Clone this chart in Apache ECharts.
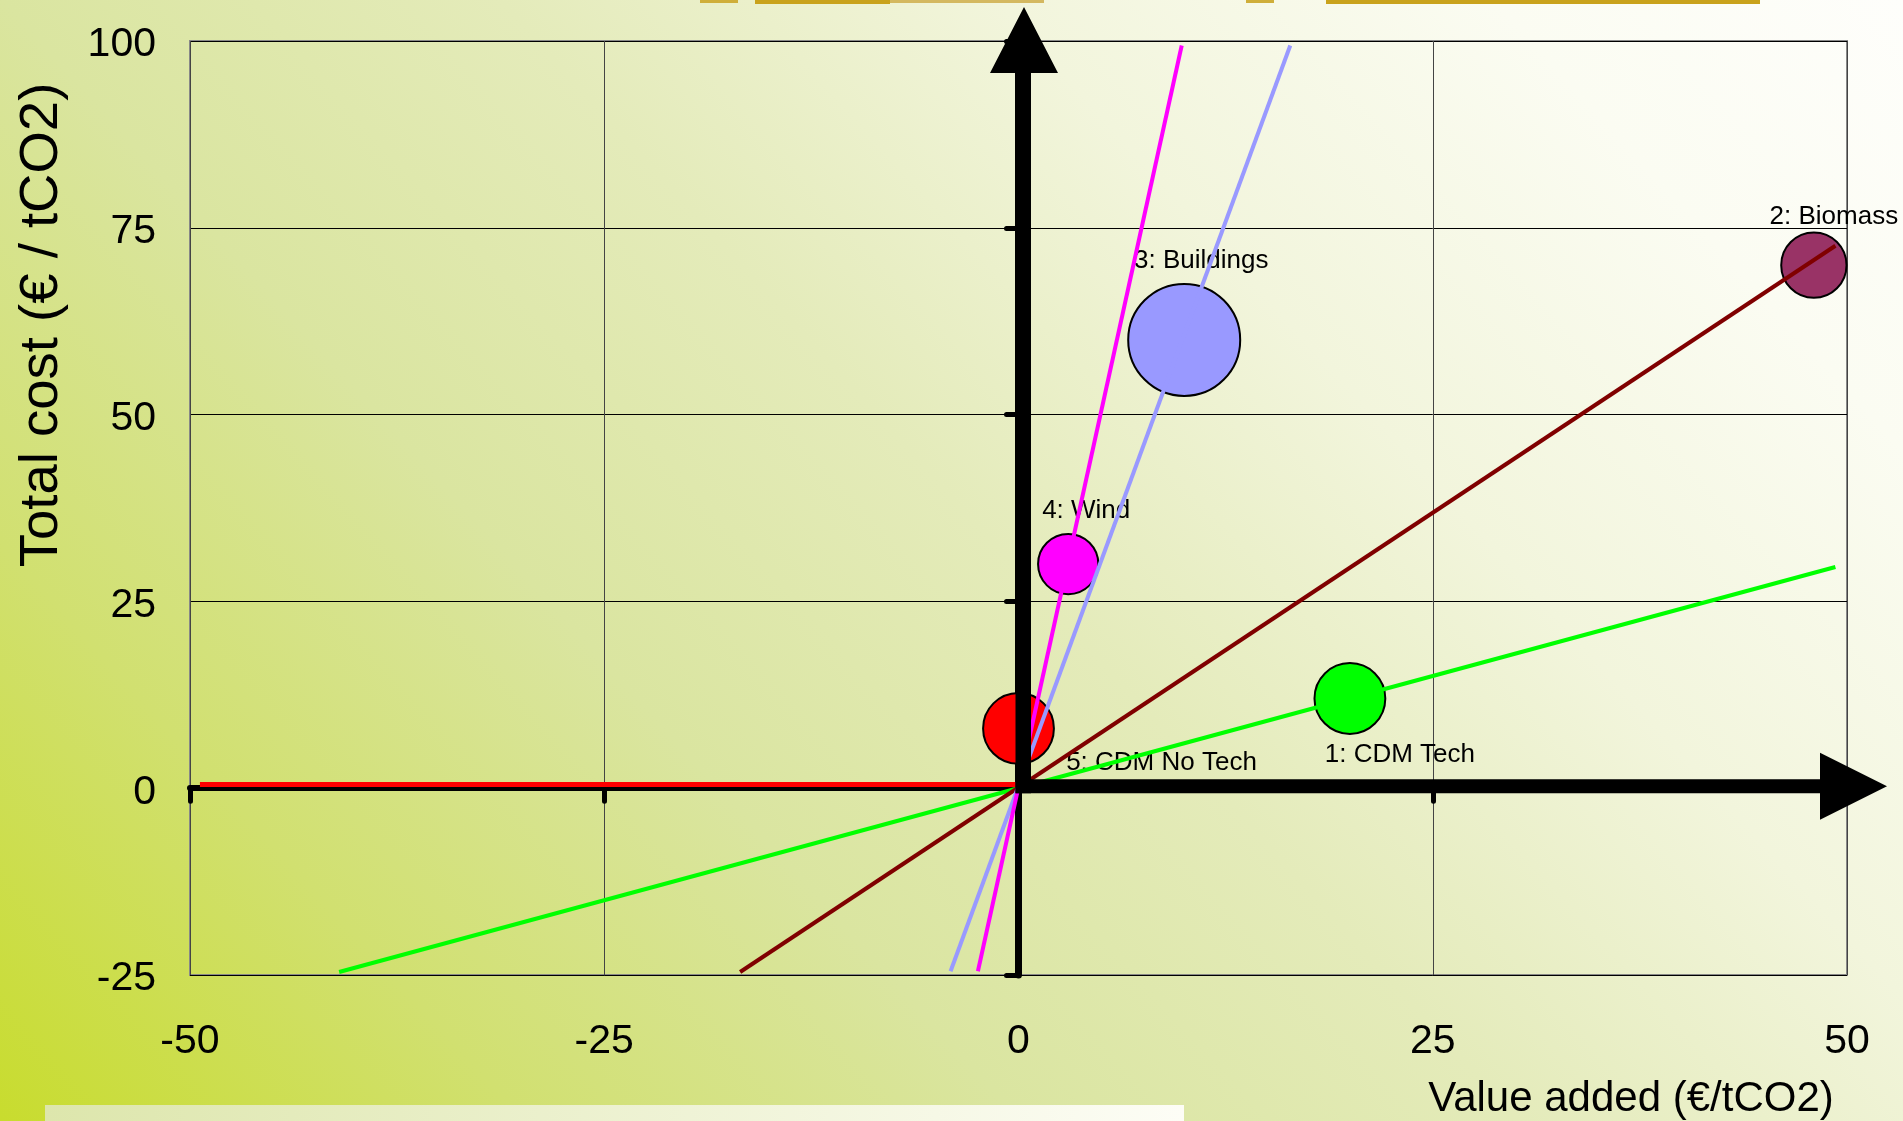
<!DOCTYPE html>
<html>
<head>
<meta charset="utf-8">
<script src="https://cdn.jsdelivr.net/npm/echarts@6/dist/echarts.min.js"></script>
<style>
  html, body { margin: 0; padding: 0; width: 100%; height: 100%; overflow: hidden; }
  #chart { width: 1903px; height: 1121px; }
</style>
</head>
<body>
<div id="chart"></div>
<script>
// Projects plotted as bubbles: value added vs total cost per tonne of CO2
const projects   = ['1: CDM Tech', '2: Biomass', '3: Buildings', '4: Wind', '5: CDM No Tech'];
const valueAdded = [20, 48, 10, 3, 0];
const totalCost  = [12, 70, 60, 30, 8];
const bubbleSize = [40, 34, 100, 29, 40];

// Trend line through the origin for each project (start and end points)
const lineStartX = [-41, -16.8, -4.1, -2.45, -49.4];
const lineStartY = [-24.6, -24.6, -24.5, -24.5, 0.5];
const lineEndX   = [49.3, 49.3, 16.4, 9.85, 0];
const lineEndY   = [29.6, 72.6, 99.4, 99.4, 0.5];

// Axis ticks
const xTicks = [-50, -25, 0, 25, 50];
const yTicks = [-25, 0, 25, 50, 75, 100];

const FONT = '"Liberation Sans", Arial, sans-serif';
const lineColors   = ['#00ff00', '#800000', '#9999ff', '#ff00ff', '#ff0000'];
const lineWidths   = [4, 4, 4, 4, 5];
const bubbleColors = ['#00ff00', '#993366', '#9999ff', '#ff00ff', '#ff0000'];
const labelOffsets = [[50, 56], [20, -48], [17, -79], [18, -53], [143, 34]];

const xMin = xTicks[0], xMax = xTicks[xTicks.length - 1];
const yMin = yTicks[0], yMax = yTicks[yTicks.length - 1];
const xStep = xTicks[1] - xTicks[0];
const yStep = yTicks[1] - yTicks[0];

const chart = echarts.init(document.getElementById('chart'), null, { renderer: 'canvas' });

const trendSeries = projects.map((p, i) => ({
  type: 'line',
  name: p,
  xAxisIndex: 0,
  yAxisIndex: 0,
  data: [[lineStartX[i], lineStartY[i]], [lineEndX[i], lineEndY[i]]],
  symbol: 'none',
  silent: true,
  z: 5,
  lineStyle: { color: lineColors[i], width: lineWidths[i] }
}));

const bubbleSeries = {
  type: 'scatter',
  xAxisIndex: 0,
  yAxisIndex: 0,
  z: 3,
  silent: true,
  data: projects.map((p, i) => ({
    name: p,
    value: [valueAdded[i], totalCost[i], bubbleSize[i]],
    itemStyle: { color: bubbleColors[i] },
    label: { offset: labelOffsets[i] }
  })),
  symbol: 'circle',
  symbolSize: v => 11.2 * Math.sqrt(v[2]),
  itemStyle: { borderColor: '#000', borderWidth: 2, opacity: 1 },
  label: {
    show: true,
    position: 'inside',
    formatter: '{b}',
    fontFamily: FONT,
    fontSize: 26,
    color: '#000',
    textBorderWidth: 0,
    align: 'center',
    verticalAlign: 'middle'
  }
};

// Thick arrows along the positive half of each axis
const arrowSeries = {
  type: 'custom',
  xAxisIndex: 0,
  yAxisIndex: 0,
  z: 10,
  silent: true,
  clip: false,
  data: [[0, 0]],
  renderItem: function (params, api) {
    const o = api.coord([api.value(0), api.value(1)]);
    const xe = api.coord([xMax, 0]);
    const ye = api.coord([0, yMax]);
    const cx = o[0] + 5.5;
    const cy = o[1] - 2;
    const vertical = [
      [o[0] - 3, o[1] + 5], [o[0] + 12.5, o[1] + 5], [o[0] + 12.5, ye[1] + 32],
      [cx + 34, ye[1] + 32], [cx, ye[1] - 34], [cx - 34, ye[1] + 32],
      [o[0] - 3, ye[1] + 32]
    ];
    const horizontal = [
      [o[0] - 3, o[1] + 5], [xe[0] - 27, o[1] + 5], [xe[0] - 27, cy + 33.5],
      [xe[0] + 40, cy], [xe[0] - 27, cy - 33.5], [xe[0] - 27, o[1] - 9],
      [o[0] - 3, o[1] - 9]
    ];
    return {
      type: 'group',
      children: [
        { type: 'polygon', shape: { points: vertical }, style: { fill: '#000' } },
        { type: 'polygon', shape: { points: horizontal }, style: { fill: '#000' } }
      ]
    };
  }
};

const option = {
  animation: false,
  backgroundColor: new echarts.graphic.LinearGradient(0, 1, 0.841, -0.297, [
    { offset: 0, color: '#c8dc2e' },
    { offset: 0.18, color: '#d1e070' },
    { offset: 0.35, color: '#dae5a0' },
    { offset: 0.52, color: '#e4ebba' },
    { offset: 0.69, color: '#f2f5dc' },
    { offset: 0.86, color: '#fbfcf2' },
    { offset: 1, color: '#fefefb' }
  ]),
  grid: {
    left: 190, right: 56, top: 41, bottom: 146,
    show: true,
    borderColor: '#888',
    borderWidth: 2,
    backgroundColor: 'transparent'
  },
  xAxis: [
    {
      type: 'value', min: xMin, max: xMax, interval: xStep, position: 'bottom',
      axisLine: { show: false, onZero: false },
      axisTick: { show: false },
      axisLabel: { fontFamily: FONT, fontSize: 41, color: '#000', margin: 46 },
      splitLine: { show: true, lineStyle: { color: '#444', width: 1 } }
    },
    {
      type: 'value', min: xMin, max: xMax, interval: xStep, position: 'bottom',
      axisLine: { show: true, onZero: true, onZeroAxisIndex: 0, lineStyle: { color: '#000', width: 6 } },
      axisTick: { show: true, inside: false, length: 13, lineStyle: { color: '#000', width: 5, cap: 'round' } },
      axisLabel: { show: false },
      splitLine: { show: false }
    }
  ],
  yAxis: [
    {
      type: 'value', min: yMin, max: yMax, interval: yStep, position: 'left',
      axisLine: { show: false, onZero: false },
      axisTick: { show: false },
      axisLabel: {
        margin: 34,
        formatter: v => '{t|' + v + '}',
        rich: { t: { fontFamily: FONT, fontSize: 41, color: '#000', padding: [8, 0, 0, 0] } }
      },
      splitLine: { show: true, lineStyle: { color: '#000', width: 1 } }
    },
    {
      type: 'value', min: yMin, max: yMax, interval: yStep, position: 'left',
      axisLine: { show: true, onZero: true, onZeroAxisIndex: 0, lineStyle: { color: '#000', width: 7 } },
      axisTick: { show: true, inside: false, length: 12, lineStyle: { color: '#000', width: 5, cap: 'round' } },
      axisLabel: { show: false },
      splitLine: { show: false }
    }
  ],
  graphic: [
    {
      type: 'text', x: 42, y: 325, rotation: Math.PI / 2, z: 20,
      style: { text: 'Total cost (€ / tCO2)', font: '54.5px "Liberation Sans", Arial, sans-serif', fill: '#000', align: 'center', verticalAlign: 'middle' }
    },
    {
      type: 'text', x: 1631, y: 1099, z: 20,
      style: { text: 'Value added (€/tCO2)', font: '42px "Liberation Sans", Arial, sans-serif', fill: '#000', align: 'center', verticalAlign: 'middle' }
    },
    {
      type: 'rect', z: 1, shape: { x: 45, y: 1105, width: 1139, height: 16 },
      style: { fill: new echarts.graphic.LinearGradient(0, 0, 1, 0, [
        { offset: 0, color: '#dde6ac' }, { offset: 1, color: '#fdfdf6' }
      ]) }
    },
    { type: 'rect', z: 1, shape: { x: 700, y: 0, width: 38, height: 3 }, style: { fill: '#cfae3a' } },
    { type: 'rect', z: 1, shape: { x: 755, y: 0, width: 135, height: 4 }, style: { fill: '#c9a21c' } },
    { type: 'rect', z: 1, shape: { x: 890, y: 0, width: 154, height: 3 }, style: { fill: '#d4b860' } },
    { type: 'rect', z: 1, shape: { x: 1246, y: 0, width: 28, height: 3 }, style: { fill: '#cfae3a' } },
    { type: 'rect', z: 1, shape: { x: 1326, y: 0, width: 434, height: 4 }, style: { fill: '#c9a21c' } }
  ],
  series: [bubbleSeries].concat(trendSeries, [arrowSeries])
};

chart.setOption(option);
</script>
</body>
</html>
